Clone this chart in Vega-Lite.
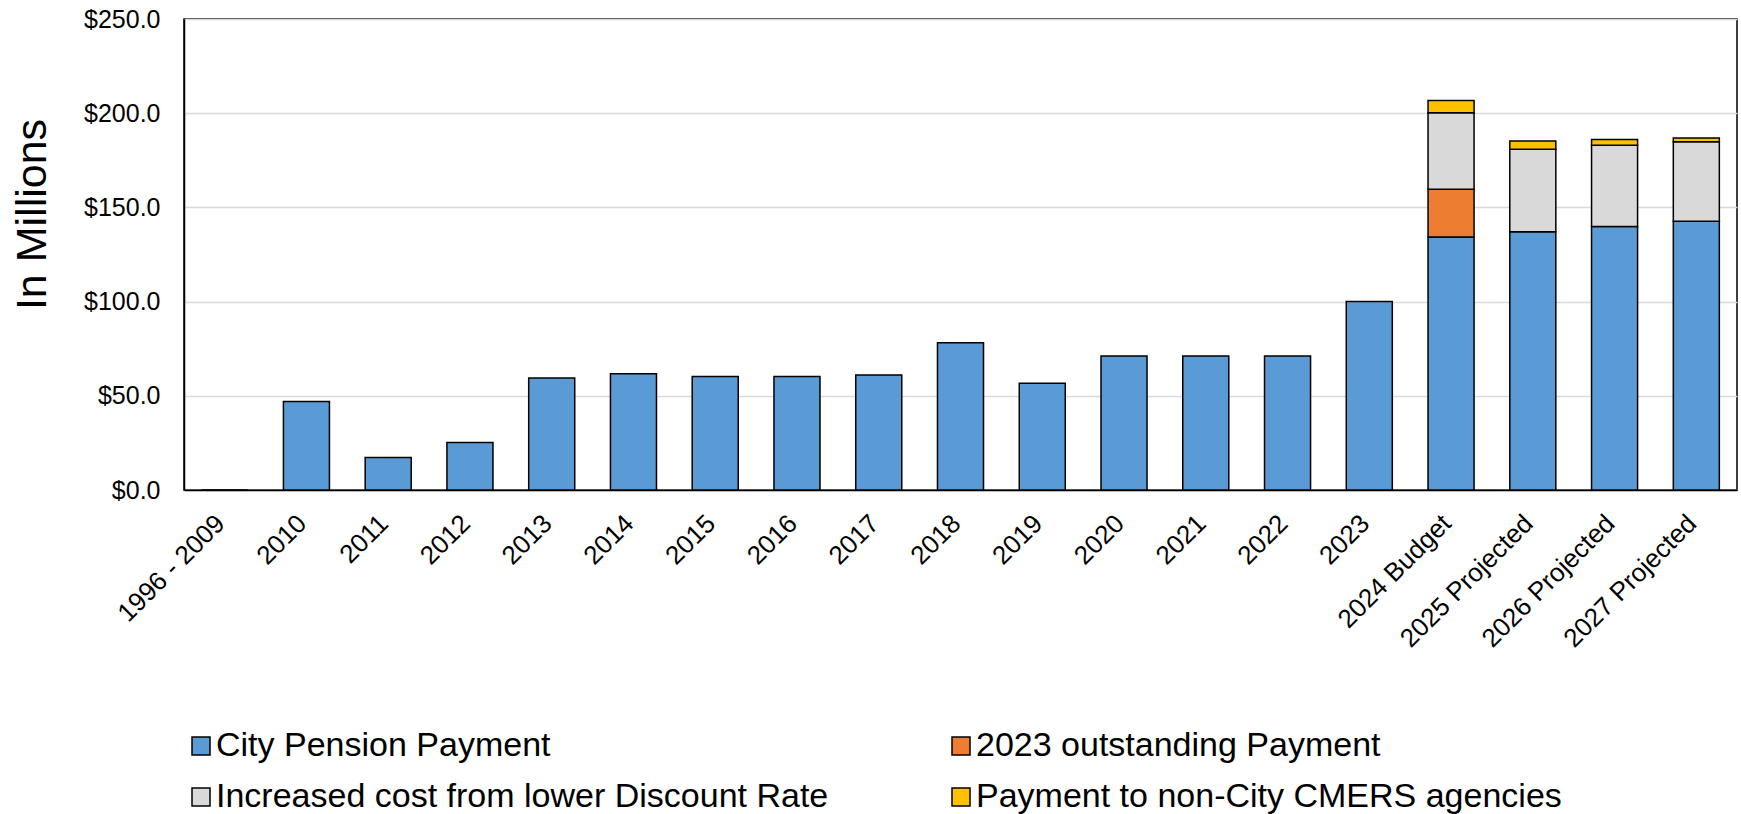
{
  "$schema": "https://vega.github.io/schema/vega-lite/v6.json",
  "width": 1553,
  "height": 471,
  "autosize": {"type": "none"},
  "padding": {"left": 184, "top": 19, "right": 4, "bottom": 324},
  "background": "white",
  "config": {
    "font": "Liberation Sans",
    "view": {"stroke": "black", "strokeWidth": 1.5},
    "axis": {"labelColor": "black", "titleColor": "black", "labelFont": "Liberation Sans", "titleFont": "Liberation Sans"},
    "legend": {"labelFont": "Liberation Sans"}
  },
  "data": {
    "values": [
      {"year": "1996 - 2009", "c": "City Pension Payment", "v": 0},
      {"year": "2010", "c": "City Pension Payment", "v": 47.0},
      {"year": "2011", "c": "City Pension Payment", "v": 17.2},
      {"year": "2012", "c": "City Pension Payment", "v": 25.2},
      {"year": "2013", "c": "City Pension Payment", "v": 59.4},
      {"year": "2014", "c": "City Pension Payment", "v": 61.7},
      {"year": "2015", "c": "City Pension Payment", "v": 60.3},
      {"year": "2016", "c": "City Pension Payment", "v": 60.3},
      {"year": "2017", "c": "City Pension Payment", "v": 61.0},
      {"year": "2018", "c": "City Pension Payment", "v": 78.2},
      {"year": "2019", "c": "City Pension Payment", "v": 56.7},
      {"year": "2020", "c": "City Pension Payment", "v": 71.1},
      {"year": "2021", "c": "City Pension Payment", "v": 71.1},
      {"year": "2022", "c": "City Pension Payment", "v": 71.1},
      {"year": "2023", "c": "City Pension Payment", "v": 100.0},
      {"year": "2024 Budget", "c": "City Pension Payment", "v": 134.3},
      {"year": "2024 Budget", "c": "2023 outstanding Payment", "v": 25.4},
      {"year": "2024 Budget", "c": "Increased cost from lower Discount Rate", "v": 40.5},
      {"year": "2024 Budget", "c": "Payment to non-City CMERS agencies", "v": 6.5},
      {"year": "2025 Projected", "c": "City Pension Payment", "v": 137.1},
      {"year": "2025 Projected", "c": "Increased cost from lower Discount Rate", "v": 43.8},
      {"year": "2025 Projected", "c": "Payment to non-City CMERS agencies", "v": 4.4},
      {"year": "2026 Projected", "c": "City Pension Payment", "v": 139.9},
      {"year": "2026 Projected", "c": "Increased cost from lower Discount Rate", "v": 43.1},
      {"year": "2026 Projected", "c": "Payment to non-City CMERS agencies", "v": 3.0},
      {"year": "2027 Projected", "c": "City Pension Payment", "v": 142.6},
      {"year": "2027 Projected", "c": "Increased cost from lower Discount Rate", "v": 42.2},
      {"year": "2027 Projected", "c": "Payment to non-City CMERS agencies", "v": 2.0}
    ]
  },
  "transform": [
    {"calculate": "indexof(['City Pension Payment','2023 outstanding Payment','Increased cost from lower Discount Rate','Payment to non-City CMERS agencies'], datum.c)", "as": "o"}
  ],
  "mark": {"type": "bar", "stroke": "black", "strokeWidth": 1.5},
  "encoding": {
    "x": {
      "field": "year",
      "type": "nominal",
      "sort": null,
      "scale": {"paddingInner": 0.437, "paddingOuter": 0.216},
      "axis": {
        "title": null,
        "labelAngle": -45,
        "labelAlign": "right",
        "labelBaseline": "middle",
        "labelFontSize": 26,
        "labelPadding": 29,
        "labelOffset": -4,
        "ticks": false,
        "tickSize": 0,
        "domainColor": "black",
        "domainWidth": 1.5,
        "grid": false,
        "labelLimit": 0
      }
    },
    "y": {
      "field": "v",
      "type": "quantitative",
      "stack": "zero",
      "scale": {"domain": [0, 250], "nice": false},
      "axis": {
        "title": "In Millions",
        "titleFontSize": 43,
        "titleFontWeight": "normal",
        "titleAngle": -90,
        "titleAlign": "center",
        "titleBaseline": "alphabetic",
        "titleX": -139,
        "titleY": 195,
        "values": [0, 50, 100, 150, 200, 250],
        "format": "$.1f",
        "labelFontSize": 25,
        "labelPadding": 24,
        "ticks": false,
        "tickSize": 0,
        "domainColor": "black",
        "domainWidth": 1.5,
        "gridColor": "#d9d9d9",
        "gridWidth": 1.5
      }
    },
    "color": {
      "field": "c",
      "type": "nominal",
      "scale": {
        "domain": ["City Pension Payment", "2023 outstanding Payment", "Increased cost from lower Discount Rate", "Payment to non-City CMERS agencies"],
        "range": ["#5B9BD5", "#ED7D31", "#D9D9D9", "#FFC000"]
      },
      "legend": {
        "title": null,
        "orient": "none",
        "legendX": 0,
        "legendY": 710,
        "direction": "horizontal",
        "columns": 2,
        "padding": 0,
        "symbolType": "square",
        "symbolSize": 324,
        "symbolStrokeColor": "black",
        "symbolStrokeWidth": 1.5,
        "labelFontSize": 34,
        "labelColor": "black",
        "labelOffset": -2,
        "labelLimit": 0,
        "rowPadding": 17,
        "columnPadding": 115
      }
    },
    "order": {"field": "o", "type": "quantitative"}
  }
}
